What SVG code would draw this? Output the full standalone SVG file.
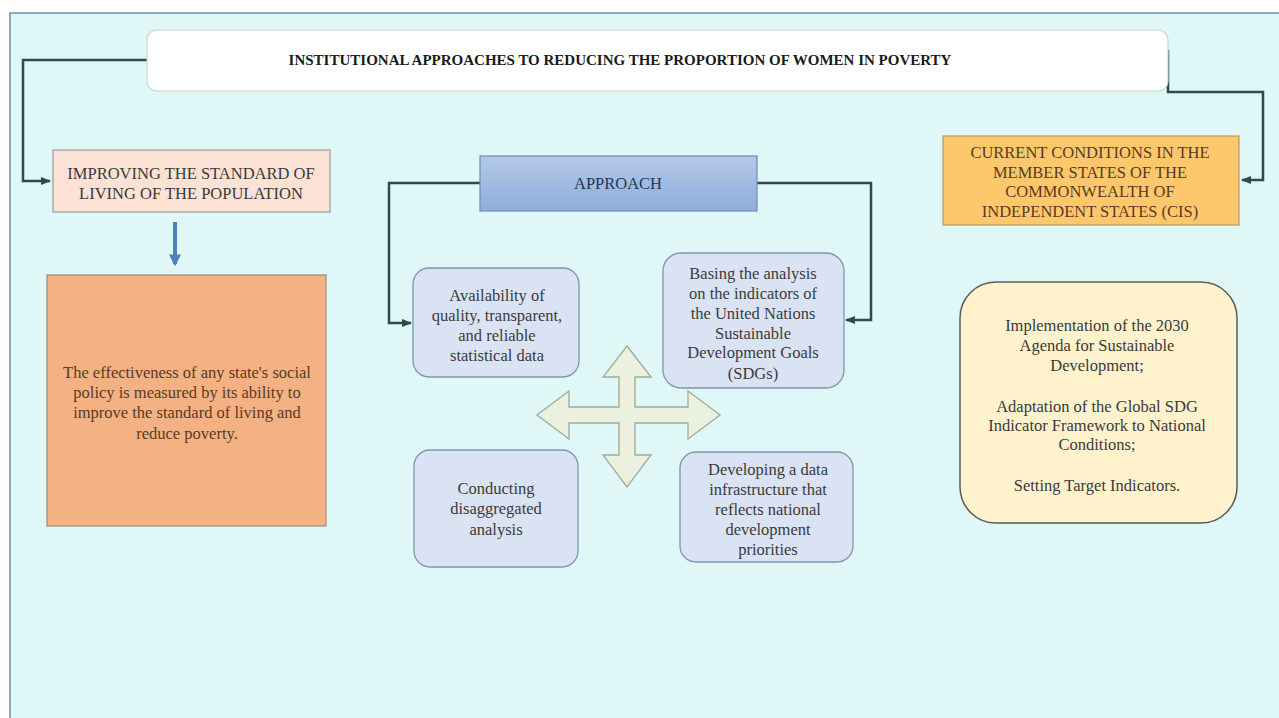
<svg xmlns="http://www.w3.org/2000/svg" width="1279" height="718" viewBox="0 0 1279 718">
<defs>
<style>
text{font-family:"Liberation Serif","Times New Roman",serif;font-size:16.5px;fill:#3a3a3a;text-anchor:middle}
.title{font-weight:bold;font-size:15px;fill:#1a1a1a}
.conn{fill:none;stroke:#2e4a4a;stroke-width:2.5}
.soft{fill:#dae3f3;stroke:#7f97ad;stroke-width:1.3}
.dark{fill:#5a3a22}
</style>
<linearGradient id="gApp" x1="0" y1="0" x2="0" y2="1">
<stop offset="0" stop-color="#b3c8e8"/>
<stop offset="1" stop-color="#8eaedd"/>
</linearGradient>
<marker id="ah" viewBox="0 0 10 10" refX="9" refY="5" markerWidth="4" markerHeight="4" orient="auto">
<path d="M0,1 L10,5 L0,9 Z" fill="#2e4a4a"/>
</marker>
<marker id="bh" viewBox="0 0 10 10" refX="8" refY="5" markerWidth="3" markerHeight="3" orient="auto">
<path d="M0,0 L10,5 L0,10 Z" fill="#4f81bd"/>
</marker>
</defs>
<rect x="0" y="0" width="1279" height="718" fill="#ffffff"/>
<rect x="10" y="13" width="1280" height="720" fill="#dff7f7" stroke="#6f8fb5" stroke-width="1.5"/>

<g id="connectors">
<path class="conn" d="M147,60 H23 V181 H50" marker-end="url(#ah)"/>
<path class="conn" d="M1168,50 V92 H1263 V180 H1242" marker-end="url(#ah)"/>
<path class="conn" d="M480,183 H389 V323 H411" marker-end="url(#ah)"/>
<path class="conn" d="M757,183 H871 V320 H846" marker-end="url(#ah)"/>
<path d="M175,222 V264" stroke="#4f81bd" stroke-width="4" fill="none" marker-end="url(#bh)"/>
</g>

<g id="title">
<rect x="147" y="30" width="1021" height="61" rx="10" fill="#ffffff" stroke="#c9d6d2" stroke-width="1.2"/>
<text class="title" x="620" y="65">INSTITUTIONAL APPROACHES TO REDUCING THE PROPORTION OF WOMEN IN POVERTY</text>
</g>

<g id="improving">
<rect x="53" y="150" width="277" height="62" fill="#fbe2d5" stroke="#9c9c9c" stroke-width="1.2"/>
<text x="191" y="179">IMPROVING THE STANDARD OF</text>
<text x="191" y="199">LIVING OF THE POPULATION</text>
</g>

<g id="effectiveness">
<rect x="47" y="275" width="279" height="251" fill="#f4b183" stroke="#9c8a7c" stroke-width="1.2"/>
<text class="dark" x="187" y="378">The effectiveness of any state's social</text>
<text class="dark" x="187" y="398">policy is measured by its ability  to</text>
<text class="dark" x="187" y="418">improve the standard of living  and</text>
<text class="dark" x="187" y="439">reduce poverty.</text>
</g>

<g id="approach">
<rect x="480" y="156" width="277" height="55" fill="url(#gApp)" stroke="#6e8db5" stroke-width="1.2"/>
<text x="618" y="189" style="fill:#2a3550">APPROACH</text>
</g>

<g id="availability">
<rect class="soft" x="413" y="268" width="166" height="109" rx="16"/>
<text x="497" y="301">Availability  of</text>
<text x="497" y="321">quality, transparent,</text>
<text x="497" y="341">and reliable</text>
<text x="497" y="361">statistical  data</text>
</g>

<g id="basing">
<rect class="soft" x="663" y="253" width="181" height="135" rx="18"/>
<text x="753" y="279">Basing the analysis</text>
<text x="753" y="299">on the indicators of</text>
<text x="753" y="319">the United Nations</text>
<text x="753" y="339">Sustainable</text>
<text x="753" y="358">Development Goals</text>
<text x="753" y="379">(SDGs)</text>
</g>

<g id="conducting">
<rect class="soft" x="414" y="450" width="164" height="117" rx="16"/>
<text x="496" y="494">Conducting</text>
<text x="496" y="514">disaggregated</text>
<text x="496" y="535">analysis</text>
</g>

<g id="developing">
<rect class="soft" x="680" y="452" width="173" height="110" rx="16"/>
<text x="768" y="475">Developing a data</text>
<text x="768" y="495">infrastructure that</text>
<text x="768" y="515">reflects national</text>
<text x="768" y="535">development</text>
<text x="768" y="555">priorities</text>
</g>

<g id="cross-arrow">
<polygon points="627,346 651,377 635,377 635,407 688,407 688,391 720,415 688,439 688,423 635,423 635,455 651,455 627,487 603,455 619,455 619,423 569,423 569,439 537,415 569,391 569,407 619,407 619,377 603,377" fill="#ebf1de" stroke="#9eaa98" stroke-width="1.3"/>
</g>

<g id="cis">
<rect x="943" y="136" width="296" height="89" fill="#fdc86c" stroke="#b39a60" stroke-width="1.2"/>
<text class="dark" x="1090" y="158">CURRENT CONDITIONS IN THE</text>
<text class="dark" x="1090" y="178">MEMBER STATES OF THE</text>
<text class="dark" x="1090" y="197">COMMONWEALTH OF</text>
<text class="dark" x="1090" y="217">INDEPENDENT STATES (CIS)</text>
</g>

<g id="agenda">
<rect x="960" y="282" width="277" height="241" rx="36" fill="#fff2cc" stroke="#5a5a5a" stroke-width="1.5"/>
<text x="1097" y="331">Implementation of the 2030</text>
<text x="1097" y="351">Agenda for Sustainable</text>
<text x="1097" y="371">Development;</text>
<text x="1097" y="412">Adaptation of the Global SDG</text>
<text x="1097" y="431">Indicator Framework to National</text>
<text x="1097" y="450">Conditions;</text>
<text x="1097" y="491">Setting Target Indicators.</text>
</g>
</svg>
